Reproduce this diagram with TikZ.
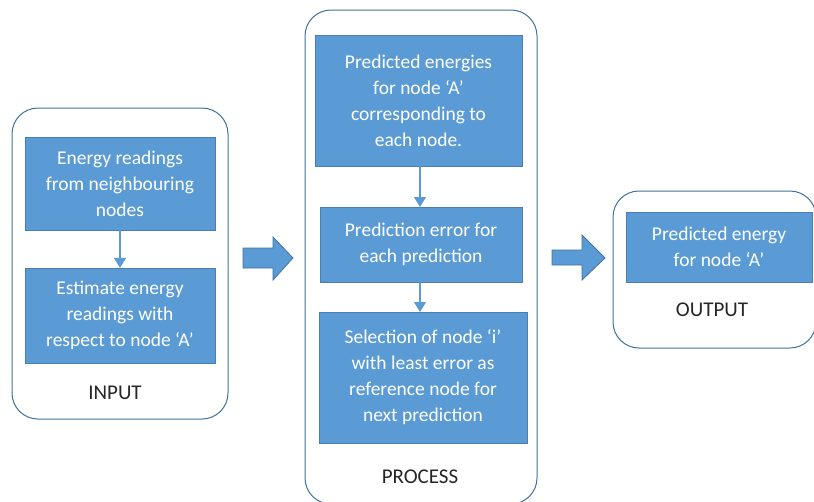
\documentclass[tikz,border=0pt]{standalone}
\usepackage{fontspec}
\setmainfont{Carlito}
\usepackage{tikz}
\usetikzlibrary{arrows.meta}
\usetikzlibrary{positioning}

\definecolor{boxblue}{HTML}{5B9BD5}
\definecolor{edgeblue}{HTML}{41719C}
\definecolor{labelgray}{HTML}{262626}

\begin{document}
\begin{tikzpicture}[x=1pt,y=-1pt]
			\tikzset{stage/.style = {shape=rectangle,draw=edgeblue,line width=1pt,
					rounded corners=26pt, inner sep = 0pt}}
			\tikzset{stepbox/.style = {shape=rectangle,fill=boxblue,draw=edgeblue!70!boxblue,
					text=white,align=center,inner sep = 0pt,
					font=\fontsize{19.5}{26}\selectfont}}
			\tikzset{stagelabel/.style = {text=labelgray,
					font=\fontsize{21}{25}\selectfont}}
			\tikzset{edge/.style = {-{Triangle[width=12pt,length=10pt]}, draw=boxblue, line width=1.5pt}}
			\tikzset{bigarrow/.style = {fill=boxblue, draw=edgeblue, line width=0.8pt}}
			
			\useasboundingbox (0,0) rectangle (814,501);
			\clip (0,0) rectangle (814,501);
			
			% containers
			\node[stage, minimum width=216pt, minimum height=311pt] (input) at (120,263.5) {};
			\node[stage, minimum width=232pt, minimum height=494pt] (process) at (421,257) {};
			\node[stage, minimum width=203pt, minimum height=157pt] (output) at (714.5,269.5) {};
			
			% vertices
			\node[stepbox, minimum width=190pt, minimum height=93pt] (in1) at (120,183.5)
				{Energy readings\\from neighbouring\\nodes};
			\node[stepbox, minimum width=190pt, minimum height=95pt] (in2) at (120,315.5)
				{Estimate energy\\readings with\\respect to node `A'};
			\node[stagelabel] (inlabel) at (115,393) {INPUT};
			
			\node[stepbox, minimum width=207pt, minimum height=131pt] (p1) at (418.5,100.5)
				{Predicted energies\\for node `A'\\corresponding to\\each node.};
			\node[stepbox, minimum width=202pt, minimum height=75pt] (p2) at (421,244.5)
				{Prediction error for\\each prediction};
			\node[stepbox, minimum width=208pt, minimum height=131pt] (p3) at (423,377.5)
				{Selection of node `i'\\with least error as\\reference node for\\next prediction};
			\node[stagelabel] (plabel) at (420,477) {PROCESS};
			
			\node[stepbox, minimum width=186pt, minimum height=70pt] (out1) at (719,247)
				{Predicted energy\\for node `A'};
			\node[stagelabel] (outlabel) at (712,310) {OUTPUT};
			
			%edges
			
			\draw[edge] (in1.south) to (in2.north);
			\draw[edge] (420,166) to (420,207);
			\draw[edge] (420,282) to (420,312);
			
			% block arrows
			\draw[bigarrow] (243,248) -- (273,248) -- (273,237) -- (293,258) -- (273,280)
				-- (273,268) -- (243,268) -- cycle;
			\draw[bigarrow] (552,250) -- (582,250) -- (582,235) -- (605,258) -- (582,280)
				-- (582,265) -- (552,265) -- cycle;
			
\end{tikzpicture}
\end{document}
